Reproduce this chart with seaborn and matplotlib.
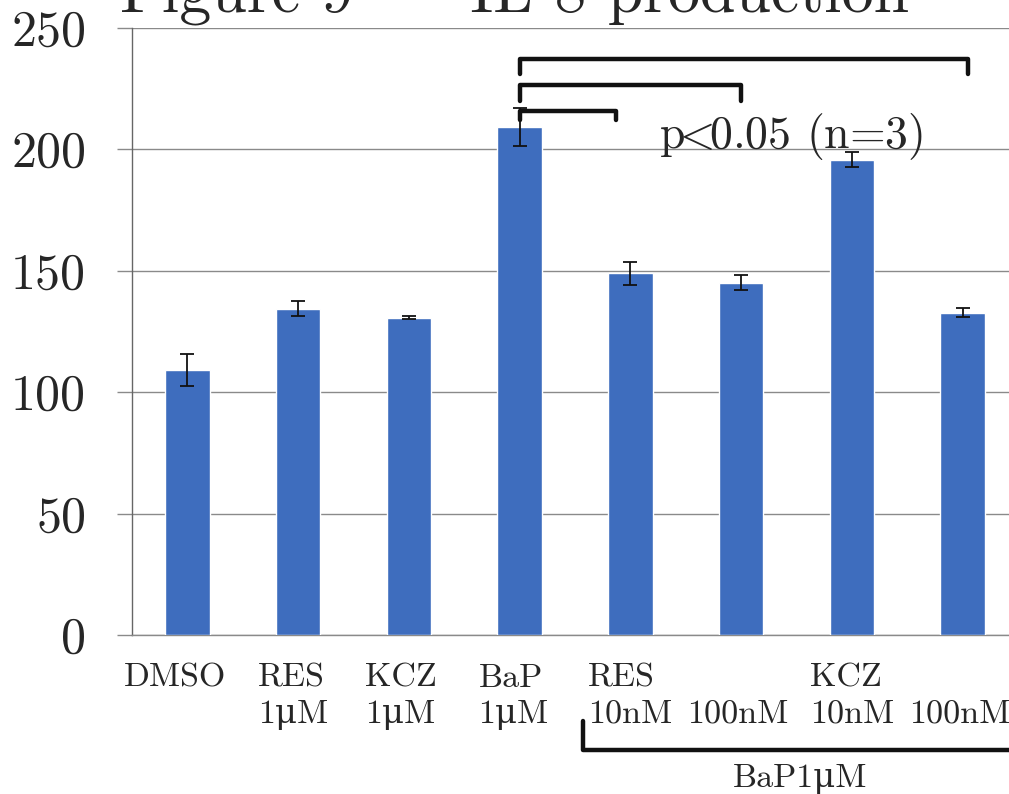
import matplotlib
matplotlib.use("Agg")
import matplotlib.pyplot as plt
import numpy as np
import pandas as pd
import seaborn as sns

# IL-8 production per treatment
conditions = ["DMSO", "RES_1uM", "KCZ_1uM", "BaP_1uM",
              "BaP_RES_10nM", "BaP_RES_100nM", "BaP_KCZ_10nM", "BaP_KCZ_100nM"]
tick_labels = ["DMSO", "RES\n1\u03bcM", "KCZ\n1\u03bcM", "BaP\n1\u03bcM",
               "RES\n10nM", "\n100nM", "KCZ\n10nM", "\n100nM"]
il8_means = [109.0, 134.3, 130.6, 209.2, 148.8, 145.0, 195.6, 132.6]
il8_errors = [6.6, 3.0, 0.5, 7.8, 4.7, 3.2, 3.0, 1.9]

# significance brackets: (from bar, to bar, height, drop)
brackets = [(3.0, 7.05, 237.0, 231.0),
            (3.0, 5.0, 226.3, 219.8),
            (3.0, 3.87, 215.6, 212.0)]

yticks = [0, 50, 100, 150, 200, 250]

df = pd.DataFrame({"condition": conditions, "il8": il8_means})

sns.set_style("white")
plt.rcParams["font.family"] = ["cmr10", "DejaVu Serif"]
plt.rcParams["mathtext.fontset"] = "cm"
plt.rcParams["axes.formatter.use_mathtext"] = True

fig = plt.figure(figsize=(10.09, 7.94), dpi=100)
ax = fig.add_axes([132 / 1009, 159 / 794, 886 / 1009, 607.5 / 794])

bar_color = "#3E6DBE"
sns.barplot(data=df, x="condition", y="il8", color=bar_color, width=0.4,
            saturation=1, errorbar=None, ax=ax, zorder=3)
ax.errorbar(np.arange(len(il8_means)), il8_means, yerr=il8_errors, fmt="none",
            ecolor="#111111", elinewidth=1.3, capsize=5, capthick=1.3, zorder=4)

ax.set_xlim(-0.5, 7.5)
ax.set_ylim(0, 250)
ax.set_yticks(yticks)
ax.set_yticklabels([str(t) for t in yticks], fontsize=36)

# the scanned labels sit a little left of their bars (offsets in px)
label_shift = [-12, -5, -8, -6, 0, -3, 0, -3]
ax.set_xticks(np.arange(len(tick_labels)) + np.array(label_shift) / 110.75)
ax.set_xticklabels(tick_labels, fontsize=24.5, linespacing=1.32,
                   multialignment="left")
ax.set_xlabel("")
ax.set_ylabel("")

ax.yaxis.grid(True, color="#8a8a8a", linewidth=1.0, zorder=0)
ax.set_axisbelow(True)
ax.tick_params(axis="y", left=True, length=11, width=1.0, color="#8a8a8a", pad=22)
ax.tick_params(axis="x", bottom=False, pad=17)
for side in ["top", "right"]:
    ax.spines[side].set_visible(False)
ax.spines["left"].set_color("#666666")
ax.spines["left"].set_linewidth(1.0)
ax.spines["bottom"].set_color("#8a8a8a")
ax.spines["bottom"].set_linewidth(1.0)

# significance brackets
for x0, x1, top, drop in brackets:
    ax.plot([x0, x0, x1, x1], [drop, top, top, drop], color="#111111",
            linewidth=3.2, solid_joinstyle="round", solid_capstyle="round",
            clip_on=False, zorder=5)
ax.text(4.26, 200.5, r"p$\!\!<\!\!$0.05 (n=3)", fontsize=33, ha="left",
        va="baseline")

# group bracket under the BaP 1uM combinations
ax.plot([3.57, 3.57, 8.2], [-35.5, -47.5, -47.5], color="#111111", linewidth=3.2,
        solid_joinstyle="round", clip_on=False, zorder=5)
ax.text(5.53, -62.5, "BaP1\u03bcM", fontsize=24.5, ha="center", va="baseline")

fig.text(120 / 1009, 1 - 13 / 794, "Figure 9  \u2013  IL-8 production",
         fontsize=46, ha="left", va="baseline")

fig.savefig("out.png", dpi=100)
